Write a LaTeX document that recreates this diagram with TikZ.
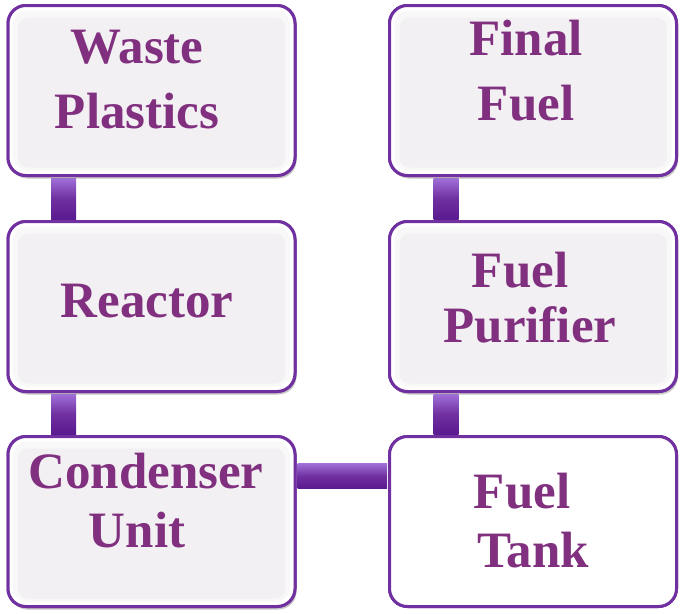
\documentclass[tikz,border=0pt]{standalone}
\usepackage{fontspec}
\setmainfont{Liberation Serif}
\usetikzlibrary{shadows}
\definecolor{bpurple}{HTML}{7030A0}
\definecolor{tpurple}{HTML}{80307F}
\definecolor{plight}{HTML}{A070D8}
\definecolor{pdark}{HTML}{5A1A90}
\definecolor{boxgray}{HTML}{F2F0F2}
\tikzset{
  box/.style={rectangle, rounded corners=18pt, minimum width=287pt, minimum height=170pt,
    draw=bpurple, line width=3pt, fill=white, inner sep=0pt,
    path picture={
      \fill[boxgray!50, rounded corners=14pt] ([shift={(5pt,-5pt)}]path picture bounding box.north west) rectangle ([shift={(-5pt,5pt)}]path picture bounding box.south east);
      \fill[boxgray, rounded corners=10pt] ([shift={(10pt,-12pt)}]path picture bounding box.north west) rectangle ([shift={(-10pt,8pt)}]path picture bounding box.south east);
    },
    drop shadow={shadow xshift=1.5pt, shadow yshift=-3pt, opacity=0.25, fill=gray}},
  whitebox/.style={rectangle, rounded corners=18pt, minimum width=287pt, minimum height=170pt,
    draw=bpurple, line width=3pt, fill=white, inner sep=0pt},
  txt/.style={anchor=base, text=tpurple, font=\fontsize{51}{60}\selectfont\bfseries, inner sep=0pt},
  vconn/.style={left color=plight, right color=pdark, middle color=bpurple, shading angle=0},
  hconn/.style={top color=plight, bottom color=pdark, middle color=bpurple}
}
\begin{document}
\begin{tikzpicture}[x=1pt,y=-1pt]
\useasboundingbox (0,0) rectangle (685,613);
% boxes (for anchors)
\node[box] (wp) at (151.5,90.5) {};
\node[box] (re) at (151.5,306.5) {};
\node[box] (cu) at (151.5,521.5) {};
\node[box] (ff) at (533,90.5) {};
\node[box] (fp) at (533,306.5) {};
\node[whitebox] (ft) at (533,521.5) {};
% connectors
\shade[vconn] ([xshift=44.5pt,yshift=-1pt]wp.south west) rectangle ([xshift=69.5pt,yshift=1pt]re.north west);
\shade[vconn] ([xshift=44.5pt,yshift=-1pt]re.south west) rectangle ([xshift=69.5pt,yshift=1pt]cu.north west);
\shade[vconn] ([xshift=45.5pt,yshift=-1pt]ff.south west) rectangle ([xshift=70.5pt,yshift=1pt]fp.north west);
\shade[vconn] ([xshift=45.5pt,yshift=-1pt]fp.south west) rectangle ([xshift=70.5pt,yshift=1pt]ft.north west);
\shade[hconn] ([xshift=1pt,yshift=-28.5pt]cu.north east) rectangle ([xshift=-1pt,yshift=-53.5pt]ft.north west);
% redraw boxes over connectors
\node[box] at (wp) {};
\node[box] at (re) {};
\node[box] at (cu) {};
\node[box] at (ff) {};
\node[box] at (fp) {};
\node[whitebox] at (ft) {};
% texts
\node[txt] (wpA) at (137,63) {Waste};
\node[txt] (wpB) at (137,128) {Plastics};
\node[txt] (reA) at (147,317) {Reactor};
\node[txt] (cuA) at (146,488) {Condenser};
\node[txt] (cuB) at (137,547) {Unit};
\node[txt] (ffA) at (526,55) {Final};
\node[txt] (ffB) at (526,120) {Fuel};
\node[txt] (fpA) at (520,287) {Fuel};
\node[txt] (fpB) at (530,342) {Purifier};
\node[txt] (ftA) at (522,508) {Fuel};
\node[txt] (ftB) at (533,567) {Tank};
\end{tikzpicture}
\end{document}
